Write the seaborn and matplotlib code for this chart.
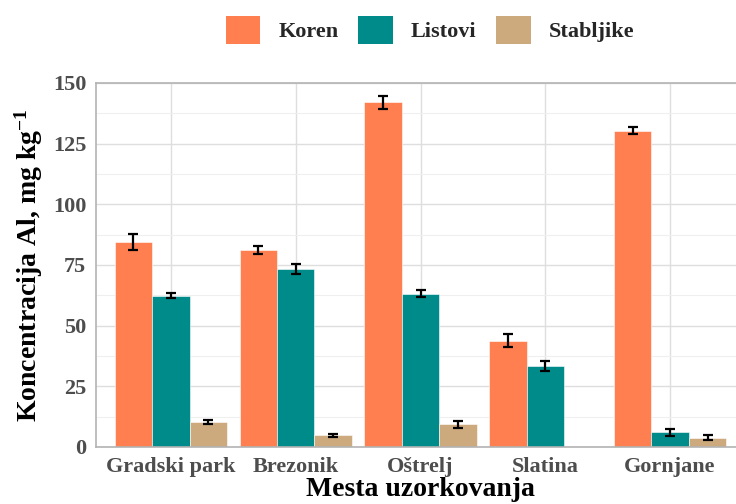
import numpy as np
import pandas as pd
import seaborn as sns
import matplotlib.pyplot as plt
from matplotlib.patches import Patch
from matplotlib.ticker import MultipleLocator

# Data
mesta = ['Gradski park', 'Brezonik', 'Oštrelj', 'Slatina', 'Gornjane']
delovi = ['Koren', 'Listovi', 'Stabljike']
koren = [84.5, 81.2, 142.0, 43.8, 130.4]
koren_sd = [3.3, 1.5, 2.7, 2.6, 1.3]
listovi = [62.4, 73.4, 63.2, 33.4, 6.0]
listovi_sd = [0.9, 2.1, 1.3, 2.1, 1.4]
stabljike = [10.3, 4.8, 9.3, np.nan, 3.8]
stabljike_sd = [0.9, 0.7, 1.3, np.nan, 1.1]
boje = ['#FF7F50', '#008B8B', '#CDAA7D']

df = pd.DataFrame({
    'mesto': mesta * 3,
    'deo': np.repeat(delovi, len(mesta)),
    'vrednost': koren + listovi + stabljike,
    'sd': koren_sd + listovi_sd + stabljike_sd,
})

sns.set_style('whitegrid')
plt.rcParams['font.family'] = ['Liberation Serif', 'DejaVu Serif']
plt.rcParams['font.weight'] = 'bold'
plt.rcParams['mathtext.fontset'] = 'custom'
plt.rcParams['mathtext.rm'] = 'Liberation Serif'
plt.rcParams['mathtext.default'] = 'rm'

fig = plt.figure(figsize=(7.36, 5.04), dpi=100)
ax = fig.add_axes([96 / 736, 57 / 504, 649 / 736, 364 / 504])

sns.barplot(data=df, x='mesto', y='vrednost', hue='deo', order=mesta,
            hue_order=delovi, palette=boje, width=0.9, errorbar=None,
            saturation=1, legend=False, ax=ax, zorder=2,
            edgecolor='#FFFFFF', linewidth=0.4)

# error bars at the dodged positions
bar_w = 0.9 / len(delovi)
for j, deo in enumerate(delovi):
    sub = df[df['deo'] == deo].set_index('mesto').loc[mesta]
    xs = np.arange(len(mesta)) + (j - 1) * bar_w
    ax.errorbar(xs, sub['vrednost'], yerr=sub['sd'], fmt='none',
                ecolor='black', elinewidth=1.6, capsize=3.6, capthick=1.6,
                zorder=3)

ax.set_xlim(-0.6, len(mesta) - 0.4)
ax.set_ylim(0, 150)
ax.yaxis.set_major_locator(MultipleLocator(25))
ax.yaxis.set_minor_locator(MultipleLocator(12.5))
ax.grid(True, which='major', color='#DEDEDE', linewidth=1.0, zorder=0)
ax.grid(True, which='minor', axis='y', color='#EFEFEF', linewidth=0.8, zorder=0)
ax.set_axisbelow(True)
for s in ax.spines.values():
    s.set_color('#B3B3B3')
    s.set_linewidth(1.2)

ax.tick_params(axis='both', which='major', length=4, width=1, color='#B3B3B3',
               labelsize=16, labelcolor='#4D4D4D', pad=3)
ax.tick_params(axis='y', which='minor', length=0)
for lab in ax.get_xticklabels() + ax.get_yticklabels():
    lab.set_fontweight('bold')

ax.set_xlabel('Mesta uzorkovanja', fontsize=20, fontweight='bold',
              color='black', labelpad=0)
ax.set_ylabel(r'Koncentracija Al, mg kg$^{-1}$', fontsize=20,
              fontweight='bold', color='black', labelpad=6)

handles = [Patch(facecolor=c, edgecolor='none', label=d) for c, d in zip(boje, delovi)]
fig.legend(handles=handles, loc='center', bbox_to_anchor=(430 / 736, 1 - 30 / 504),
           ncol=3, frameon=False, prop={'size': 16, 'weight': 'bold'},
           handlelength=1.55, handleheight=1.55, handletextpad=0.8,
           columnspacing=0.9)

fig.savefig('out.png', dpi=100)
